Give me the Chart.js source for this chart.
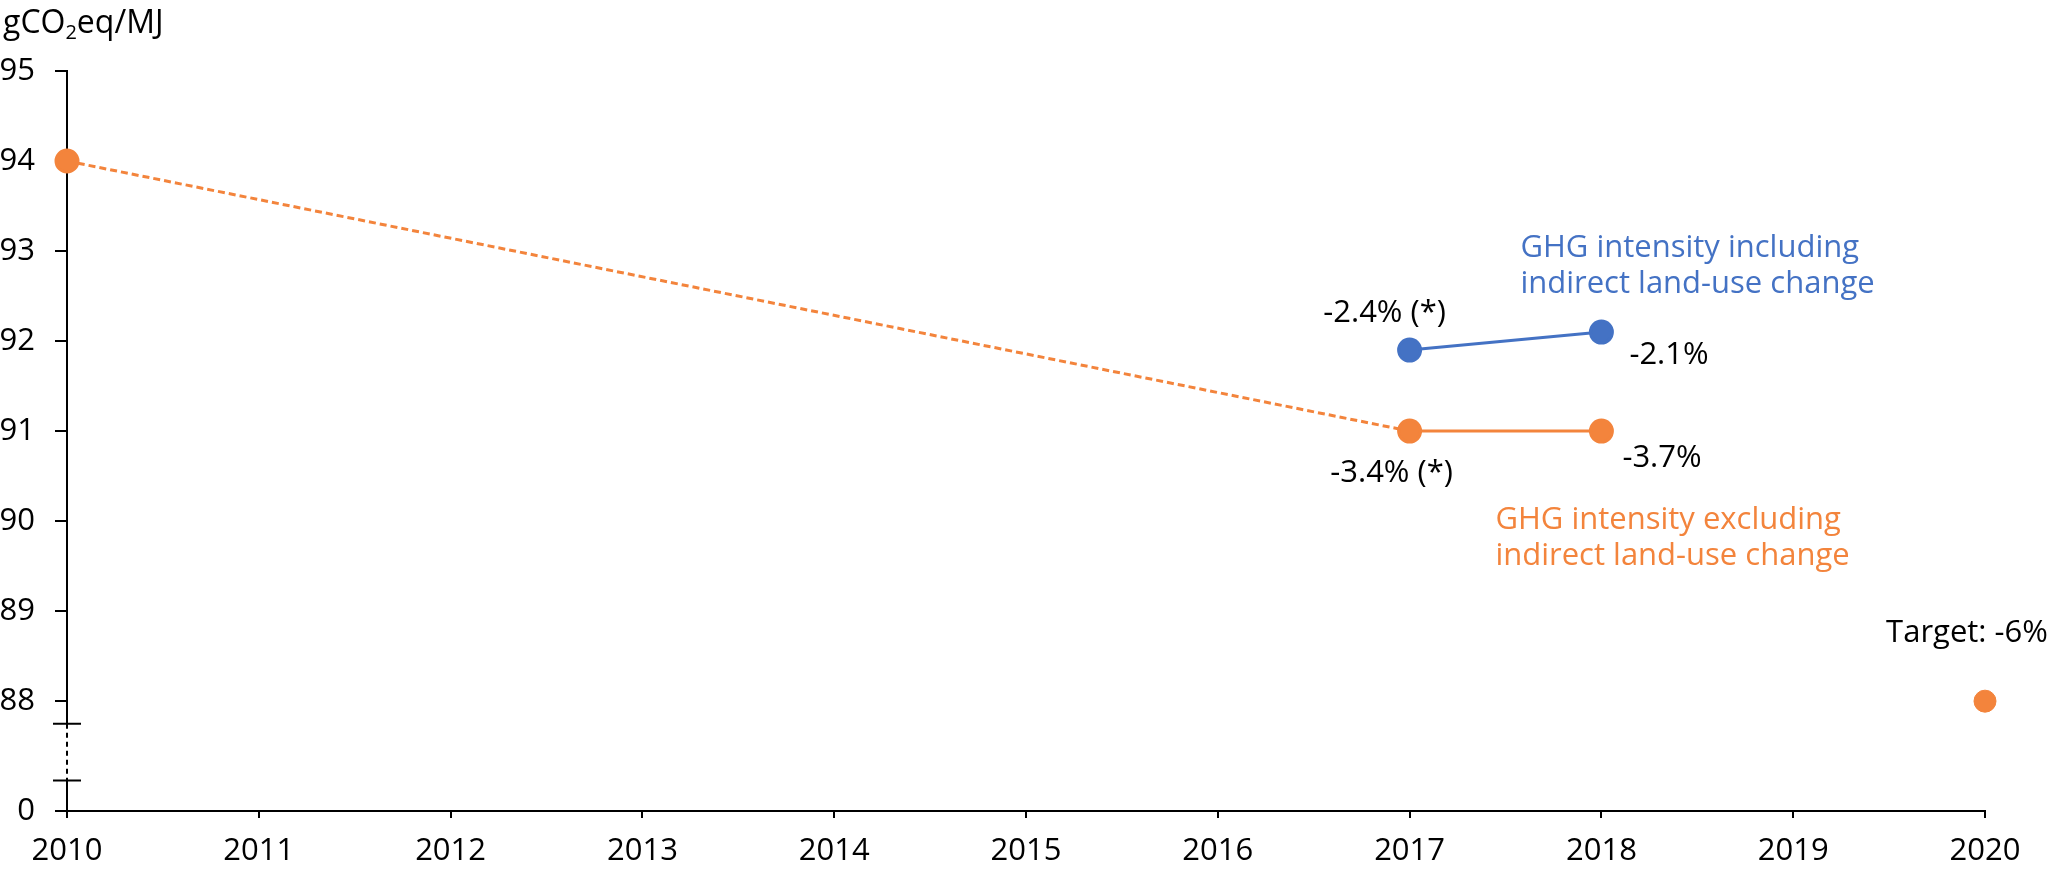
<!DOCTYPE html>
<html>
<head>
<meta charset="utf-8">
<script src="https://cdn.jsdelivr.net/npm/chart.js@4.4.1/dist/chart.umd.min.js"></script>
<style>
  html, body { margin: 0; padding: 0; background: #fff; }
  #wrap { width: 2048px; height: 872px; }
</style>
</head>
<body>
<div id="wrap"><canvas id="chart"></canvas></div>
<script>
// data
const years = ["2010", "2011", "2012", "2013", "2014", "2015", "2016", "2017", "2018", "2019", "2020"];
const excludingIluc = [94, null, null, null, null, null, null, 91, 91, null, null];
const includingIluc = [null, null, null, null, null, null, null, 91.9, 92.1, null, null];
const target = [null, null, null, null, null, null, null, null, null, null, 88];
const yTicks = [88, 89, 90, 91, 92, 93, 94, 95];
const yBreakLabel = "0";

const ORANGE = "#f3843c";
const BLUE = "#4472c4";
const FONT = "'Open Sans', 'Noto Sans', sans-serif";

// axis bottom sits below 88, shown as a broken axis down to 0
const yMin = 86.78;
const breakTop = 87.75;
const breakBottom = 87.12;
// the 2010 -> 2017 stretch is dashed
const dashedUntil = years.indexOf("2017");

// text placed next to points: [dataset, index, text, dx, dy, align, colour]
const notes = [
  [1, 7, "-2.4% (*)", -25, -37, "center", "#000"],
  [1, 8, "-2.1%", 28, 23, "left", "#000"],
  [0, 7, "-3.4% (*)", -18, 42, "center", "#000"],
  [0, 8, "-3.7%", 21, 27, "left", "#000"],
  [1, 8, "GHG intensity including", -81, -84, "left", BLUE],
  [1, 8, "indirect land-use change", -81, -48, "left", BLUE],
  [0, 8, "GHG intensity excluding", -106, 89, "left", ORANGE],
  [0, 8, "indirect land-use change", -106, 125, "left", ORANGE],
  [2, 10, "Target: -6%", -18, -68, "center", "#000"],
];

const extras = {
  id: "extras",
  beforeDatasetsDraw(chart) {
    const ctx = chart.ctx;
    const y = chart.scales.y;
    const x0 = y.right;
    const top = y.getPixelForValue(breakTop);
    const bot = y.getPixelForValue(breakBottom);
    ctx.save();
    ctx.fillStyle = "#fff";
    ctx.fillRect(x0 - 3, top, 6, bot - top);
    ctx.strokeStyle = "#000";
    ctx.lineWidth = 2;
    ctx.setLineDash([5, 4]);
    ctx.beginPath();
    ctx.moveTo(x0, top);
    ctx.lineTo(x0, bot);
    ctx.stroke();
    ctx.setLineDash([]);
    ctx.beginPath();
    ctx.moveTo(x0 - 14, top);
    ctx.lineTo(x0 + 14, top);
    ctx.moveTo(x0 - 14, bot);
    ctx.lineTo(x0 + 14, bot);
    ctx.stroke();
    ctx.restore();
  },
  afterDatasetsDraw(chart) {
    const ctx = chart.ctx;
    ctx.save();
    ctx.font = "31px " + FONT;
    ctx.textBaseline = "middle";
    notes.forEach(([ds, i, text, dx, dy, align, colour]) => {
      const pt = chart.getDatasetMeta(ds).data[i];
      ctx.fillStyle = colour;
      ctx.textAlign = align;
      ctx.fillText(text, pt.x + dx, pt.y + dy);
    });

    // unit title with subscript
    ctx.fillStyle = "#000";
    ctx.textAlign = "left";
    ctx.textBaseline = "alphabetic";
    let tx = 3;
    const base = 33;
    ctx.font = "32px " + FONT;
    ctx.fillText("gCO", tx, base);
    tx += ctx.measureText("gCO").width;
    ctx.font = "20px " + FONT;
    ctx.fillText("2", tx, base + 6);
    tx += ctx.measureText("2").width;
    ctx.font = "32px " + FONT;
    ctx.fillText("eq/MJ", tx, base);
    ctx.restore();
  }
};

new Chart(document.getElementById("chart"), {
  type: "line",
  data: {
    labels: years,
    datasets: [
      {
        label: "GHG intensity excluding indirect land-use change",
        data: excludingIluc,
        borderColor: ORANGE,
        backgroundColor: ORANGE,
        borderWidth: 3,
        pointRadius: 11,
        pointHoverRadius: 11,
        spanGaps: true,
        clip: false,
        segment: {
          borderDash: (c) => (c.p1DataIndex <= dashedUntil ? [7, 4] : undefined),
        },
      },
      {
        label: "GHG intensity including indirect land-use change",
        data: includingIluc,
        borderColor: BLUE,
        backgroundColor: BLUE,
        borderWidth: 3,
        pointRadius: 11,
        pointHoverRadius: 11,
        spanGaps: true,
        clip: false,
      },
      {
        label: "Target",
        data: target,
        borderColor: ORANGE,
        backgroundColor: ORANGE,
        showLine: false,
        pointRadius: 11,
        pointHoverRadius: 11,
        clip: false,
      },
    ],
  },
  options: {
    responsive: true,
    maintainAspectRatio: false,
    animation: false,
    layout: { padding: { left: 0, top: 71, right: 63, bottom: 0 } },
    plugins: {
      legend: { display: false },
      tooltip: { enabled: false },
    },
    scales: {
      x: {
        offset: false,
        afterFit: (s) => { s.height = 61; },
        grid: { drawOnChartArea: false, drawTicks: true, tickLength: 7, color: "#000", lineWidth: 2 },
        border: { display: true, color: "#000", width: 2 },
        ticks: { color: "#000", padding: 15, maxRotation: 0, autoSkip: false, font: { family: FONT, size: 31 } },
      },
      y: {
        min: yMin,
        max: 95,
        afterFit: (s) => { s.width = 67; },
        afterBuildTicks: (s) => {
          s.ticks = [{ value: yMin }].concat(yTicks.map((v) => ({ value: v })));
        },
        grid: { drawOnChartArea: false, drawTicks: true, tickLength: 12, color: "#000", lineWidth: 2 },
        border: { display: true, color: "#000", width: 2 },
        ticks: {
          color: "#000",
          padding: 20,
          font: { family: FONT, size: 31 },
          callback: (v) => (v < yTicks[0] ? yBreakLabel : String(v)),
        },
      },
    },
  },
  plugins: [extras],
});
</script>
</body>
</html>
